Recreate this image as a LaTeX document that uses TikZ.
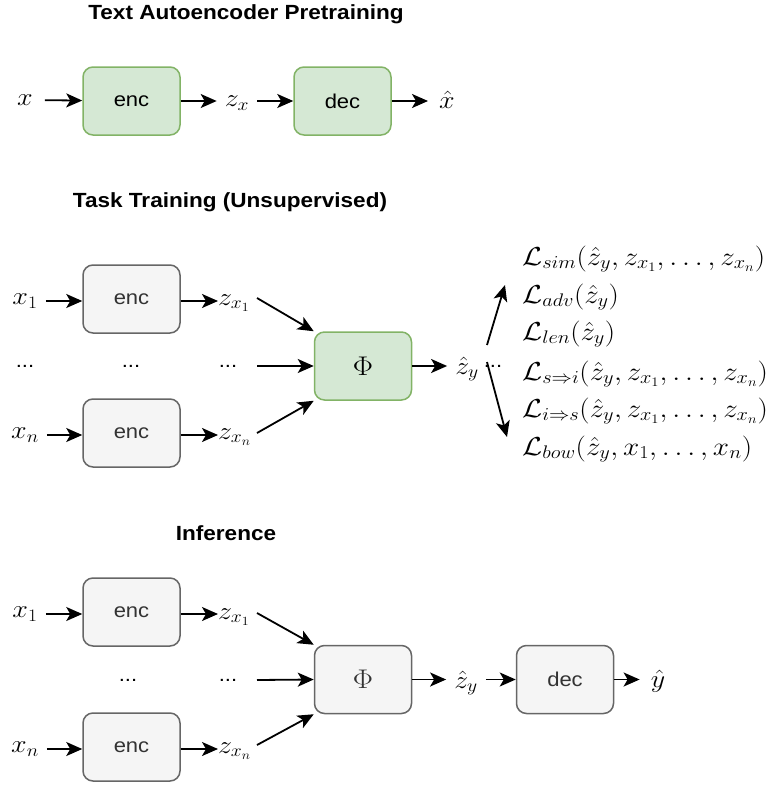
\RequirePackage{fix-cm}
\documentclass[tikz,border=0pt]{standalone}
\usepackage{amsmath}
\usepackage{graphicx}
\usepackage[no-math]{fontspec}
\setmainfont{Liberation Sans}[FakeStretch=1.1]
\usetikzlibrary{arrows.meta}
\newcommand{\hxs}[1]{\scalebox{1.12}[1]{#1}}
\definecolor{gfill}{HTML}{D5E8D4}
\definecolor{gdraw}{HTML}{82B366}
\definecolor{hfill}{HTML}{F5F5F5}
\definecolor{hdraw}{HTML}{666666}
\definecolor{htext}{HTML}{333333}
\tikzset{
  box/.style={rectangle, rounded corners=10pt, line width=1.5pt, minimum width=97pt, minimum height=68pt, inner sep=0pt, font=\fontsize{20}{24}\selectfont},
  gbox/.style={box, fill=gfill, draw=gdraw, text=black},
  hbox/.style={box, fill=hfill, draw=hdraw, text=htext},
  ttl/.style={font=\fontsize{20.5}{24}\selectfont\bfseries, inner sep=0pt},
  lbl/.style={font=\fontsize{25}{30}\selectfont, inner xsep=8pt, inner ysep=2pt},
  dts/.style={font=\fontsize{20}{24}\selectfont, inner sep=0pt},
  loss/.style={font=\fontsize{26}{30}\selectfont, inner sep=0pt, anchor=base west},
  phifont/.style={font=\fontsize{27}{30}\selectfont},
  arr/.style={-{Stealth[length=16pt,width=14pt,inset=4pt]}, line width=1.8pt, black},
}
\begin{document}
\begin{tikzpicture}[x=1pt, y=-1pt]
\useasboundingbox (0,0) rectangle (767,785);
% ---------- Text Autoencoder Pretraining ----------
\node[ttl] (t1) at (246,14) {Text Autoencoder Pretraining};
\node[lbl, inner xsep=12pt] (xin) at (25,100) {\hxs{$x$}};
\node[gbox] (enc0) at (131.5,101) {enc};
\node[lbl] (zx) at (237,103) {\hxs{$z_x$}};
\node[gbox] (dec0) at (342.5,101) {dec};
\node[lbl, inner xsep=11pt] (xhat) at (447,100) {\hxs{$\hat{x}$}};
\draw[arr] (xin) -- (enc0);
\draw[arr] (enc0) -- (zx.west |- enc0);
\draw[arr] (zx.east |- dec0) -- (dec0);
\draw[arr] (dec0) -- (xhat.west |- dec0);
% ---------- Task Training ----------
\node[ttl] (t2) at (230,202) {Task Training (Unsupervised)};
\node[hbox] (enc1) at (131.5,299) {enc};
\node[hbox] (encn) at (131.5,433) {enc};
\node[gbox, phifont] (phi) at (363,366) {\hxs{$\Phi$}};
\node[lbl] (x1) at (25,301) {\hxs{$x_1$}};
\node[lbl] (xn) at (25,435) {\hxs{$x_n$}};
\node[lbl, anchor=west, inner xsep=0pt] (zx1) at (218,303) {\hxs{$z_{x_1}$}};
\node[lbl, anchor=west, inner xsep=0pt] (zxn) at (218,437) {\hxs{$z_{x_n}$}};
\node[dts] (d1) at (25,366) {...};
\node[dts] (d2) at (131,366) {...};
\node[dts] (d3) at (228,366) {...};
\coordinate (m1) at (257,366);
\node[lbl] (zy) at (467,369) {\hxs{$\hat{z}_y$}};
\node[dts] (d4) at (493,366) {...};
\draw[arr] (x1) -- (enc1.west |- x1);
\draw[arr] (xn) -- (encn.west |- xn);
\draw[arr] (enc1.east |- x1) -- (zx1.west |- x1);
\draw[arr] (encn.east |- xn) -- (zxn.west |- xn);
\coordinate (s1) at (257,298);
\coordinate (sn) at (257,433);
\draw[arr] (s1) -- (phi.north west);
\draw[arr] (sn) -- (phi.south west);
\draw[arr] (m1) -- (phi.west);
\draw[arr] (phi.east) -- (zy.west |- phi.east);
\coordinate (ua) at (487,345);
\coordinate (ub) at (505,285);
\coordinate (da) at (487,362);
\coordinate (db) at (507,437);
\draw[arr] (ua) -- (ub);
\draw[arr] (da) -- (db);
\node[loss] (l1) at (522,265) {\hxs{$\mathcal{L}_{sim}(\hat{z}_y, z_{x_1}, \dots, z_{x_n})$}};
\node[loss] (l2) at (522,303) {\hxs{$\mathcal{L}_{adv}(\hat{z}_y)$}};
\node[loss] (l3) at (522,340) {\hxs{$\mathcal{L}_{len}(\hat{z}_y)$}};
\node[loss] (l4) at (522,380) {\hxs{$\mathcal{L}_{s\Rightarrow i}(\hat{z}_y, z_{x_1}, \dots, z_{x_n})$}};
\node[loss] (l5) at (522,417) {\hxs{$\mathcal{L}_{i\Rightarrow s}(\hat{z}_y, z_{x_1}, \dots, z_{x_n})$}};
\node[loss] (l6) at (522,455) {\hxs{$\mathcal{L}_{bow}(\hat{z}_y, x_1, \dots, x_n)$}};
% ---------- Inference ----------
\node[ttl] (t3) at (226,533) {Inference};
\node[hbox] (enc1b) at (131.5,612) {enc};
\node[hbox] (encnb) at (131.5,747) {enc};
\node[hbox, phifont] (phib) at (363,679.5) {\hxs{$\Phi$}};
\node[lbl] (x1b) at (25,614) {\hxs{$x_1$}};
\node[lbl] (xnb) at (25,749) {\hxs{$x_n$}};
\node[lbl, anchor=west, inner xsep=0pt] (zx1b) at (218,617) {\hxs{$z_{x_1}$}};
\node[lbl, anchor=west, inner xsep=0pt] (zxnb) at (218,751) {\hxs{$z_{x_n}$}};
\node[dts] (d2b) at (128,680) {...};
\node[dts] (d3b) at (228,680) {...};
\coordinate (m1b) at (257,680);
\node[lbl, inner xsep=8pt] (zyb) at (466,683) {\hxs{$\hat{z}_y$}};
\node[hbox] (decb) at (565,679.5) {dec};
\node[lbl, inner xsep=11pt] (yhat) at (658,681) {\hxs{$\hat{y}$}};
\draw[arr] (x1b) -- (enc1b.west |- x1b);
\draw[arr] (xnb) -- (encnb.west |- xnb);
\draw[arr] (enc1b.east |- x1b) -- (zx1b.west |- x1b);
\draw[arr] (encnb.east |- xnb) -- (zxnb.west |- xnb);
\coordinate (s1b) at (257,613);
\coordinate (snb) at (257,745);
\draw[arr] (s1b) -- (phib.north west);
\draw[arr] (snb) -- (phib.south west);
\draw[arr] (m1b) -- (phib.west);
\draw[arr] (phib.east) -- (zyb.west |- phib.east);
\draw[arr] (zyb.east |- decb) -- (decb);
\draw[arr] (decb) -- (yhat.west |- decb);
\end{tikzpicture}
\end{document}
